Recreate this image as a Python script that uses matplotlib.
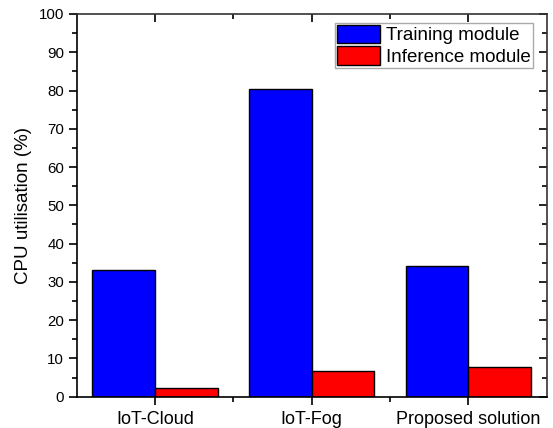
import numpy as np
import matplotlib
matplotlib.use("Agg")
from matplotlib import pyplot as plt
from matplotlib.lines import TICKLEFT, TICKDOWN
from matplotlib.ticker import MultipleLocator, FixedLocator

plt.rcParams['font.family'] = ['Liberation Sans', 'DejaVu Sans']

categories = ['IoT-Cloud', 'IoT-Fog', 'Proposed solution']
training = [33.1, 80.4, 34.1]
inference = [2.2, 6.6, 7.7]

x = np.arange(1, len(categories) + 1)
w = 0.4

fig = plt.figure(figsize=(5.53, 4.28), dpi=100)
ax = fig.add_axes([0.1387, 0.0731, 0.85, 0.8942])

ax.bar(x - w/2, training, w, color='#0000ff', edgecolor='black', linewidth=1, label='Training module')
ax.bar(x + w/2, inference, w, color='#ff0000', edgecolor='black', linewidth=1, label='Inference module')

ax.set_xlim(0.5, 3.5)
ax.set_ylim(0, 100)
ax.set_xticks(x)
ax.set_xticklabels(categories)
ax.xaxis.set_minor_locator(FixedLocator([1.5, 2.5]))
ax.yaxis.set_major_locator(MultipleLocator(10))
ax.yaxis.set_minor_locator(MultipleLocator(5))

ax.tick_params(axis='both', which='major', length=6, width=1.2, direction='out')
ax.tick_params(axis='both', which='minor', length=3.5, width=1.2, direction='out')
ax.tick_params(axis='y', which='major', labelsize=10.8, pad=3)
ax.tick_params(axis='x', which='major', labelsize=13, pad=4)
ax.tick_params(axis='both', which='both', right=True, top=True, labelright=False, labeltop=False)

# right and top ticks point inward, like Origin
for t in ax.yaxis.get_major_ticks() + ax.yaxis.get_minor_ticks():
    t.tick2line.set_marker(TICKLEFT)
for t in ax.xaxis.get_major_ticks() + ax.xaxis.get_minor_ticks():
    t.tick2line.set_marker(TICKDOWN)

for s in ax.spines.values():
    s.set_linewidth(1.2)
ax.spines['top'].set_color('#333333')
ax.spines['right'].set_color('#333333')

ax.set_ylabel('CPU utilisation (%)', fontsize=13.5, labelpad=5)

leg = ax.legend(loc='upper right', bbox_to_anchor=(0.971, 0.977), fontsize=13.5,
                fancybox=False, edgecolor='#aaaaaa', framealpha=1, borderpad=0.1,
                labelspacing=0.1, handlelength=2.3, handleheight=1.15,
                handletextpad=0.32, borderaxespad=0)
leg.get_frame().set_linewidth(1)

fig.savefig('out.png', dpi=100)
